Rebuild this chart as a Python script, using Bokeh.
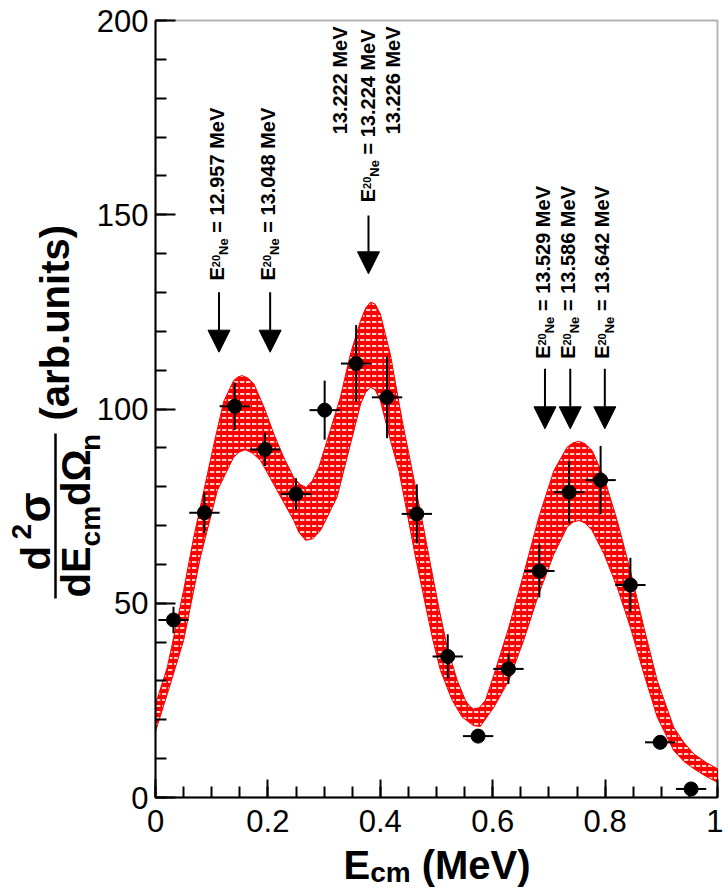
from math import pi
from bokeh.plotting import figure
from bokeh.models import Range1d, FixedTicker, Label, Arrow, NormalHead, LinearAxis, BoxAnnotation
from bokeh.embed import file_html
from bokeh.resources import INLINE

# ---------------- data ----------------
e_cm = [0.032, 0.087, 0.141, 0.195, 0.250, 0.301, 0.357, 0.412, 0.465,
        0.520, 0.574, 0.628, 0.683, 0.736, 0.792, 0.845, 0.898, 0.953]
e_cm_err = [0.027] * 18
yield_val = [45.7, 73.3, 100.7, 89.6, 78.1, 99.7, 111.7, 103.0, 73.0,
             36.3, 15.8, 33.1, 58.3, 78.6, 81.7, 54.7, 14.2, 2.2]
yield_err = [3.4, 5.2, 6.1, 4.3, 4.1, 7.6, 9.9, 10.5, 7.6,
             5.7, 1.0, 3.9, 6.8, 8.0, 8.8, 7.0, 1.5, 0.5]

band_upper_x = [0.0, 0.021, 0.050, 0.068, 0.086, 0.104, 0.1215, 0.139, 0.146, 0.154,
                0.164, 0.175, 0.193, 0.2105, 0.228, 0.246, 0.257, 0.268, 0.279, 0.2906,
                0.311, 0.329, 0.347, 0.365, 0.374, 0.3826, 0.391, 0.400, 0.418, 0.439,
                0.4567, 0.4745, 0.489, 0.504, 0.519, 0.537, 0.5516, 0.559, 0.566, 0.576,
                0.587, 0.602, 0.6287, 0.655, 0.682, 0.709, 0.7325, 0.743, 0.754, 0.765,
                0.777, 0.798, 0.8215, 0.845, 0.869, 0.8927, 0.922, 0.94, 0.958, 0.98, 1.0]
band_upper_y = [24, 33.5, 53.3, 67, 79, 91, 102, 107.3, 108.2, 108.6,
                108.0, 106.5, 100.5, 93.6, 87.6, 82.4, 80.6, 79.8, 81.5, 85,
                94.5, 103, 114.2, 122.8, 126.0, 127.5, 127.0, 124.5, 114, 97,
                84.2, 71.3, 60.2, 49, 38.7, 30.1, 25, 23.5, 22.8, 23.1,
                25, 31.5, 43.8, 57.5, 72.1, 84.2, 90.2, 91.3, 91.7, 91.0,
                89.3, 82.4, 71.3, 58.4, 43.8, 30.1, 18.1, 14.2, 11.2, 9.0, 7.4]
band_lower_x = [0.0, 0.025, 0.050, 0.080, 0.110, 0.139, 0.150, 0.160, 0.173, 0.187,
                0.2165, 0.246, 0.255, 0.267, 0.280, 0.2936, 0.323, 0.347, 0.365, 0.374,
                0.3826, 0.391, 0.400, 0.418, 0.433, 0.448, 0.4626, 0.4774, 0.4923, 0.507,
                0.528, 0.5457, 0.566, 0.578, 0.602, 0.6287, 0.655, 0.682, 0.709, 0.7325,
                0.743, 0.754, 0.765, 0.777, 0.798, 0.8215, 0.845, 0.869, 0.8927, 0.922,
                0.94, 0.958, 0.98, 1.0]
band_lower_y = [17, 28.5, 40.4, 61.9, 79, 87.6, 89.0, 89.5, 88.6, 86.7,
                79, 71.3, 68.3, 66.2, 66.6, 68.7, 77.3, 91, 101.3, 104.3,
                105.6, 104.9, 102.2, 91.9, 84.2, 73, 61.9, 51.6, 41.3, 32.7,
                25, 20.7, 18.5, 18.3, 23.2, 30.1, 40.4, 52.4, 62.7, 69.6,
                70.9, 71.3, 70.6, 68.7, 62.7, 54.1, 43.8, 31.8, 20.7, 12.1,
                9.3, 7.4, 5.4, 3.9]

level_e_cm = [0.113, 0.204, 0.379, 0.693, 0.738, 0.7995]
level_labels = ["12.957", "13.048", "13.222", "13.224", "13.226", "13.529", "13.586", "13.642"]

x_ticks = [0, 0.2, 0.4, 0.6, 0.8, 1.0]
x_tick_labels = ["0", "0.2", "0.4", "0.6", "0.8", "1"]
x_minor = [round(i * 0.05, 2) for i in range(21)]
y_ticks = [0, 50, 100, 150, 200]
y_minor = list(range(0, 201, 10))

# ---------------- layout ----------------
X0, X1, Y0, Y1 = 0.0, 1.0, 0.0, 200.0          # plotted data window
FL, FR, FT, FB = 155, 717, 20, 797              # its edges in page pixels
W, H = 723, 889
FONT = "Liberation Sans"


def sx(X):
    return X0 + (X - FL) / (FR - FL) * (X1 - X0)


def sy(Y):
    return Y0 + (FB - Y) / (FB - FT) * (Y1 - Y0)


def px_of(x):
    return FL + (x - X0) / (X1 - X0) * (FR - FL)


p = figure(width=W, height=H, output_backend="svg", toolbar_location=None,
           x_range=Range1d(sx(0), sx(W)), y_range=Range1d(sy(H), sy(0)),
           x_axis_type=None, y_axis_type=None, min_border=0)
p.xgrid.visible = False
p.ygrid.visible = False
p.outline_line_color = None
p.background_fill_color = "white"
p.border_fill_color = "white"

xaxis = LinearAxis(fixed_location=Y0, bounds=(X0, X1),
                   ticker=FixedTicker(ticks=x_ticks, minor_ticks=x_minor),
                   major_label_overrides={t: l for t, l in zip(x_ticks, x_tick_labels)})
yaxis = LinearAxis(fixed_location=X0, bounds=(Y0, Y1),
                   ticker=FixedTicker(ticks=y_ticks, minor_ticks=y_minor))
p.add_layout(xaxis, "below")
p.add_layout(yaxis, "left")
for ax in (xaxis, yaxis):
    ax.axis_line_width = 2
    ax.major_tick_line_width = 2
    ax.minor_tick_line_width = 2
    ax.major_tick_out = 0
    ax.minor_tick_out = 0
    ax.minor_tick_in = 11
    ax.major_label_text_font = FONT
    ax.major_label_text_font_size = "31px"
    ax.major_label_text_color = "black"
yaxis.major_tick_in = 20
xaxis.major_tick_in = 18
yaxis.major_label_standoff = 7
xaxis.major_label_standoff = 12

# frame box
p.add_layout(BoxAnnotation(left=X0, right=X1, bottom=Y0, top=Y1, fill_color=None,
                           line_color="black", line_width=2, level="overlay"))

# band
px = band_upper_x + band_lower_x[::-1]
py = band_upper_y + band_lower_y[::-1]
p.patch(px, py, fill_color="red", line_color="red", line_width=1,
        hatch_pattern="horizontal_dash", hatch_color="white",
        hatch_scale=6, hatch_weight=1.7, hatch_alpha=0.95)

# data points with error bars
xl = [x - e for x, e in zip(e_cm, e_cm_err)]
xr = [x + e for x, e in zip(e_cm, e_cm_err)]
yl = [y - e for y, e in zip(yield_val, yield_err)]
yh = [y + e for y, e in zip(yield_val, yield_err)]
p.segment(xl, yield_val, xr, yield_val, line_color="black", line_width=2)
p.segment(e_cm, yl, e_cm, yh, line_color="black", line_width=2)
p.scatter(e_cm, yield_val, marker="circle", size=14, fill_color="black", line_color="black")


# ---------------- annotations ----------------
SHIFT = 0.37   # empirical baseline correction (fraction of font size)


def txt(X, Y, s, size, angle=0.0, align="left", bold=True):
    if angle == 0.0:
        Y = Y - SHIFT * size
    else:
        X = X - SHIFT * size
    p.add_layout(Label(x=sx(X), y=sy(Y), text=s, text_font=FONT,
                       text_font_size=f"{size}px",
                       text_font_style="bold" if bold else "normal",
                       angle=angle, text_align=align, text_baseline="alphabetic",
                       text_color="black"))


def eline(xb, y0, value):
    txt(xb, y0, "E", 20, pi / 2)
    txt(xb - 4, y0 - 13.3, "20", 11, pi / 2)
    txt(xb + 4, y0 - 25.5, "Ne", 13, pi / 2)
    txt(xb, y0 - 47.7, "= " + value + " MeV", 20, pi / 2)


def arrow(x, Ytop, Ytip):
    p.add_layout(Arrow(x_start=x, y_start=sy(Ytop), x_end=x, y_end=sy(Ytip),
                       line_color="black", line_width=2,
                       end=NormalHead(size=22, fill_color="black", line_color="black")))


for i in (0, 1):
    arrow(level_e_cm[i], 291.7, 351.7)
    eline(px_of(level_e_cm[i]) + 5, 280, level_labels[i])
arrow(level_e_cm[2], 215, 273.3)
xa = px_of(level_e_cm[2])
txt(xa - 21.3, 26, level_labels[2] + " MeV", 20, pi / 2, align="right")
eline(xa + 6.7, 201.7, level_labels[3])
txt(xa + 31.7, 26, level_labels[4] + " MeV", 20, pi / 2, align="right")
for i, j in ((3, 5), (4, 6), (5, 7)):
    arrow(level_e_cm[i], 368.3, 428.3)
    eline(px_of(level_e_cm[i]) + 5, 358.3, level_labels[j])

# x title
txt(343, 879, "E", 40)
txt(369.7, 882, "cm", 28)
txt(421.2, 879, "(MeV)", 40)

# y title
txt(69, 420, "(arb.units)", 40, pi / 2)
txt(50, 570, "d", 40, pi / 2)
txt(31, 539, "2", 28, pi / 2)
txt(50, 522, "\u03c3", 44, pi / 2)
p.add_layout(Arrow(x_start=sx(55), y_start=sy(598), x_end=sx(55), y_end=sy(433),
                   line_color="black", line_width=2.5, start=None, end=None))
txt(90, 597, "dE", 40, pi / 2)
txt(100, 545.9, "cm", 28, pi / 2)
txt(90, 505.4, "d\u03a9", 40, pi / 2)
txt(100, 450.4, "n", 28, pi / 2)

open("out.html", "w").write(file_html(p, INLINE))
